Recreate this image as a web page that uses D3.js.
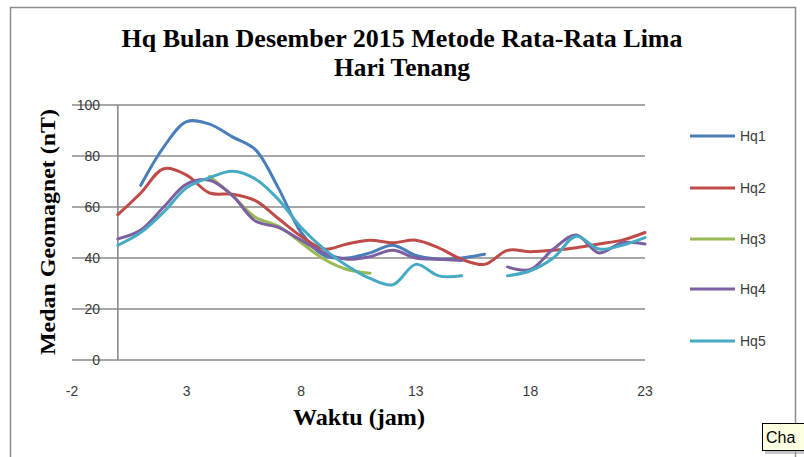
<!DOCTYPE html>
<html>
<head>
<meta charset="utf-8">
<script src="https://cdn.jsdelivr.net/npm/d3@7"></script>
<style>
  html, body { margin: 0; padding: 0; background: #fff; overflow: hidden; }
  svg { display: block; }
</style>
</head>
<body>
<svg id="chart" width="804" height="457"></svg>
<script>
// ---- data ----
const hours = [0,1,2,3,4,5,6,7,8,9,10,11,12,13,14,15,16,17,18,19,20,21,22,23];
const seriesNames = ["Hq1","Hq2","Hq3","Hq4","Hq5"];
const hq1 = [null,68.5,83.5,93.5,92.5,87.5,82.5,67.5,50,41,40,42,45,41,39.5,40,41.5,null,null,null,null,null,null,null];
const hq2 = [57,65.5,75,72.5,65.5,65,62.5,55.5,48.5,43.5,45.5,47,46,47,44,39.5,37.5,43,42.5,43,44,45.5,47,50];
const hq3 = [null,null,null,null,72,64.5,56,52.5,46,39.5,35.5,34,null,null,null,null,null,null,null,null,null,null,null,null];
const hq4 = [47.5,51,60,69,70.5,64.5,54.5,52,47,42,39.5,40.5,43,40,39.5,39,null,36.5,35.5,43.5,49,42,46,45.5];
const hq5 = [45,50,58,67.5,71.5,74,71,63,52,43.5,37,32,29.5,37.5,33,33,null,33,35,40,48.5,43.5,45,48];
const xTicks = [-2,3,8,13,18,23];
const yTicks = [0,20,40,60,80,100];
const titleLines = ["Hq  Bulan Desember 2015 Metode  Rata-Rata  Lima", "Hari Tenang"];
const xTitle = "Waktu (jam)";
const yTitle = "Medan Geomagnet (nT)";
const colors = ["#4A7EBB","#BE4B48","#98B954","#7D60A0","#46AAC5"];

const allSeries = [hq1,hq2,hq3,hq4,hq5];

const svg = d3.select("#chart");
svg.append("rect").attr("x",0).attr("y",0).attr("width",804).attr("height",457).attr("fill","#fff");

// chart frame
svg.append("rect").attr("x",10.5).attr("y",7.5).attr("width",785).attr("height",470)
  .attr("fill","#fff").attr("stroke","#8c8c8c").attr("stroke-width",1.5);

const x = d3.scaleLinear().domain([-2,23]).range([72,645]);
const y = d3.scaleLinear().domain([0,100]).range([360,105]);

// gridlines
svg.append("g").selectAll("line").data(yTicks).join("line")
  .attr("x1", x(-2)).attr("x2", x(23))
  .attr("y1", d => y(d)).attr("y2", d => y(d))
  .attr("stroke", "#8a8a8a").attr("stroke-width", 1.6);

// vertical axis at x=0
svg.append("line").attr("x1", x(0)).attr("x2", x(0)).attr("y1", y(100)).attr("y2", y(0))
  .attr("stroke","#8a8a8a").attr("stroke-width",1.6);

// y tick labels
svg.append("g").selectAll("text").data(yTicks).join("text")
  .attr("x", 100).attr("y", d => y(d)).attr("dy","0.35em")
  .attr("text-anchor","end")
  .attr("font-family","Liberation Sans, Arial, sans-serif").attr("font-size",14)
  .attr("fill","#3a3a3a").text(d => d);

// x tick labels
svg.append("g").selectAll("text").data(xTicks).join("text")
  .attr("x", d => x(d)).attr("y", 391).attr("dy","0.35em")
  .attr("text-anchor","middle")
  .attr("font-family","Liberation Sans, Arial, sans-serif").attr("font-size",14)
  .attr("fill","#3a3a3a").text(d => d);

// lines
const line = d3.line()
  .defined(d => d.v !== null)
  .x(d => x(d.h)).y(d => y(d.v))
  .curve(d3.curveCatmullRom.alpha(0.5));

allSeries.forEach((s, i) => {
  const pts = hours.map((h, j) => ({h: h, v: s[j]}));
  svg.append("path").datum(pts)
    .attr("d", line)
    .attr("fill","none").attr("stroke", colors[i]).attr("stroke-width",3)
    .attr("stroke-linejoin","round").attr("stroke-linecap","round");
});

// title
svg.append("text").attr("x", 402).attr("y", 47)
  .attr("text-anchor","middle")
  .attr("font-family","Liberation Serif, Times New Roman, serif").attr("font-weight","bold")
  .attr("font-size",25).attr("fill","#000")
  .attr("textLength",561).attr("lengthAdjust","spacingAndGlyphs")
  .text(titleLines[0]);
svg.append("text").attr("x", 402).attr("y", 76)
  .attr("text-anchor","middle")
  .attr("font-family","Liberation Serif, Times New Roman, serif").attr("font-weight","bold")
  .attr("font-size",25).attr("fill","#000")
  .attr("textLength",136).attr("lengthAdjust","spacingAndGlyphs")
  .text(titleLines[1]);

// x title
svg.append("text").attr("x", 359).attr("y", 425)
  .attr("text-anchor","middle")
  .attr("font-family","Liberation Serif, Times New Roman, serif").attr("font-weight","bold")
  .attr("font-size",23).attr("fill","#000")
  .attr("textLength",132).attr("lengthAdjust","spacingAndGlyphs")
  .text(xTitle);

// y title
svg.append("text")
  .attr("transform","translate(55,232) rotate(-90)")
  .attr("text-anchor","middle")
  .attr("font-family","Liberation Serif, Times New Roman, serif").attr("font-weight","bold")
  .attr("font-size",21).attr("fill","#000")
  .attr("textLength",246).attr("lengthAdjust","spacingAndGlyphs")
  .text(yTitle);

// legend
const legendY = [136,188,239,289,341];
const lg = svg.append("g");
seriesNames.forEach((n, i) => {
  lg.append("line").attr("x1",690).attr("x2",735).attr("y1",legendY[i]).attr("y2",legendY[i])
    .attr("stroke",colors[i]).attr("stroke-width",3);
  lg.append("text").attr("x",740).attr("y",legendY[i]).attr("dy","0.35em")
    .attr("font-family","Liberation Sans, Arial, sans-serif").attr("font-size",14)
    .attr("fill","#3a3a3a").text(n);
});

// tooltip fragment at bottom-right
svg.append("rect").attr("x",765).attr("y",426).attr("width",50).attr("height",28).attr("fill","#a0a0a0").attr("opacity",0.6);
svg.append("rect").attr("x",762.5).attr("y",423.5).attr("width",50).attr("height",27)
  .attr("fill","#ffffe1").attr("stroke","#000").attr("stroke-width",1);
svg.append("text").attr("x",766).attr("y",443)
  .attr("font-family","Liberation Sans, Arial, sans-serif").attr("font-size",16)
  .attr("fill","#000").text("Cha");
</script>
</body>
</html>
